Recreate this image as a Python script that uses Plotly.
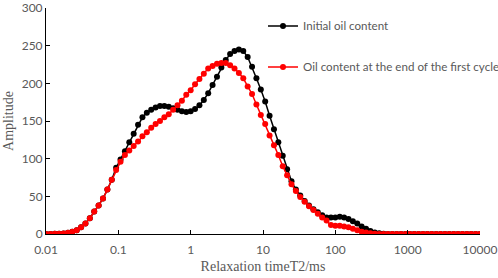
import numpy as np
import plotly.graph_objects as go

# T2 sampling grid (ms), 100 log-spaced points from 0.01 to 10000
T2_MS = np.logspace(-2, 4, 100)

INITIAL = [0, 0, 0.2, 0.4, 0.8, 1.5, 3, 5, 9, 14,
           21, 30, 38, 47, 59, 72, 88, 99, 110, 122,
           133, 145, 155, 161, 165, 168, 170, 170, 169, 167,
           165, 163, 162, 163, 166, 171, 178, 187, 198, 209,
           221, 231, 239, 243, 245, 243, 235, 222, 207, 192,
           176, 157, 139, 122, 104, 86, 70, 59, 51, 44,
           38, 33, 29, 25, 22, 22, 22, 23, 22, 20,
           17, 14, 10, 7, 4, 2, 1, 0.3, 0, 0,
           0, 0, 0, 0, 0, 0, 0, 0, 0, 0,
           0, 0, 0, 0, 0, 0, 0, 0, 0, 0]

FIRST_CYCLE = [0, 0, 0.2, 0.4, 0.8, 1.5, 3, 5, 9, 14,
               21, 30, 38, 47, 59, 72, 85, 96, 105, 111,
               117, 123, 130, 135, 141, 146, 150, 155, 159, 165,
               171, 177, 185, 191, 199, 206, 213, 220, 223, 226,
               227, 227, 224, 220, 214, 207, 196, 186, 172, 158,
               146, 131, 118, 105, 90, 78, 66, 57, 49, 43,
               37, 32, 27, 22, 18, 12, 11, 11, 10, 9,
               7, 5, 3, 2, 1, 0.3, 0, 0, 0, 0,
               0, 0, 0, 0, 0, 0, 0, 0, 0, 0,
               0, 0, 0, 0, 0, 0, 0, 0, 0, 0]

X_TICKS = [0.01, 0.1, 1, 10, 100, 1000, 10000]
X_TICK_TEXT = ["0.01", "0.1", "1", "10", "100", "1000", "10000"]
Y_TICKS = [0, 50, 100, 150, 200, 250, 300]

SERIES = [
    ("Initial oil content", INITIAL, "#000000"),
    ("Oil content at the end of the first cycle", FIRST_CYCLE, "#ff0000"),
]

fig = go.Figure()
for i, (name, vals, color) in enumerate(SERIES):
    fig.add_trace(go.Scatter(
        x=T2_MS, y=vals, name=name, mode="lines+markers",
        line=dict(color=color, width=1.5),
        marker=dict(color=color, size=6),
        legendgroup=f"g{i}",
    ))

tick_font = dict(family="Lato, Noto Sans, sans-serif", size=12, color="#595959")
title_font = dict(family="Liberation Serif, Times New Roman, serif", size=14, color="#595959")

fig.update_layout(
    width=498, height=278,
    margin=dict(l=46, r=18, t=8, b=44, autoexpand=False),
    paper_bgcolor="white", plot_bgcolor="white",
    showlegend=True,
    legend=dict(x=0.5, y=0.985, xanchor="left", yanchor="top",
                font=dict(family="Lato, Noto Sans, sans-serif", size=11.6, color="#595959"),
                bgcolor="rgba(0,0,0,0)", traceorder="grouped", tracegroupgap=22,
                itemwidth=30),
    xaxis=dict(type="log", range=[-2, 4], tickvals=X_TICKS, ticktext=X_TICK_TEXT,
               showgrid=False, zeroline=False, showline=True, linecolor="#000000",
               linewidth=1, ticks="inside", ticklen=4, tickcolor="#000000",
               tickfont=tick_font, ticklabelstandoff=5,
               title=dict(text="Relaxation timeT2/ms", font=title_font, standoff=4)),
    yaxis=dict(range=[0, 300.2], tickvals=Y_TICKS,
               showgrid=False, zeroline=False, showline=True, linecolor="#000000",
               linewidth=1, ticks="inside", ticklen=4, tickcolor="#000000",
               tickfont=tick_font, ticklabeloverflow="allow",
               title=dict(text="Amplitude", font=title_font, standoff=4)),
)

fig.write_html("out.html", config={"displayModeBar": False},
               post_script="document.body.style.margin='0';document.body.style.overflow='hidden';")
